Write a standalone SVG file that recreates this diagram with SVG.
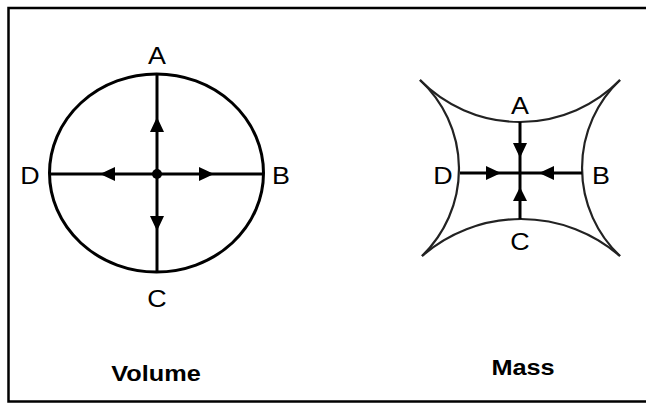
<svg xmlns="http://www.w3.org/2000/svg" width="646" height="403" viewBox="0 0 646 403">
<style>
.lbl{font-family:"Liberation Sans",Arial,sans-serif;font-size:24px;fill:#000;text-anchor:middle}
.ttl{font-family:"Liberation Sans",Arial,sans-serif;font-size:22px;font-weight:bold;fill:#000;text-anchor:middle}
.ax{stroke:#000;stroke-width:3;fill:none}
.curve{stroke:#222;stroke-width:2.2;fill:none}
.ah{fill:#000}
</style>
<rect width="646" height="403" fill="#fff"/>
<path d="M648,8 H8.5 V401.5 H648" fill="none" stroke="#000" stroke-width="2.5"/>

<g id="volume">
  <ellipse cx="156.5" cy="173" rx="107" ry="99" class="ax"/>
  <g id="volume-connectors">
    <line x1="157" y1="74" x2="157" y2="272" class="ax"/>
    <line x1="49.5" y1="174" x2="263.5" y2="174" class="ax"/>
    <circle cx="157" cy="174" r="5" class="ah"/>
    <polygon points="157,117 150,132 164,132" class="ah"/>
    <polygon points="157,231 150,216 164,216" class="ah"/>
    <polygon points="100,174 115,167 115,181" class="ah"/>
    <polygon points="214,174 199,167 199,181" class="ah"/>
  </g>
  <text class="lbl" transform="translate(157,64) scale(1.12,1)">A</text>
  <text class="lbl" transform="translate(30,184) scale(1.12,1)">D</text>
  <text class="lbl" transform="translate(281,184) scale(1.12,1)">B</text>
  <text class="lbl" transform="translate(157,307) scale(1.12,1)">C</text>
  <text class="ttl" transform="translate(156,381) scale(1.15,1)">Volume</text>
</g>

<g id="mass">
  <path class="curve" d="M420,80 A140,140 0 0 0 620,80"/>
  <path class="curve" d="M420,80 A121,121 0 0 1 422,256"/>
  <path class="curve" d="M620,80 A121,121 0 0 0 620,256"/>
  <path class="curve" d="M422,256 A151,151 0 0 1 620,256"/>
  <g id="mass-connectors">
    <line x1="520" y1="122" x2="520" y2="219" class="ax"/>
    <line x1="460" y1="173" x2="582" y2="173" class="ax"/>
    <polygon points="520,158 513,143 527,143" class="ah"/>
    <polygon points="520,187 513,201 527,201" class="ah"/>
    <polygon points="501,173 486,166 486,180" class="ah"/>
    <polygon points="539,173 554,166 554,180" class="ah"/>
  </g>
  <text class="lbl" transform="translate(520,114) scale(1.12,1)">A</text>
  <text class="lbl" transform="translate(443,184) scale(1.12,1)">D</text>
  <text class="lbl" transform="translate(601,184) scale(1.12,1)">B</text>
  <text class="lbl" transform="translate(520,250) scale(1.12,1)">C</text>
  <text class="ttl" transform="translate(523,375) scale(1.15,1)">Mass</text>
</g>
</svg>
